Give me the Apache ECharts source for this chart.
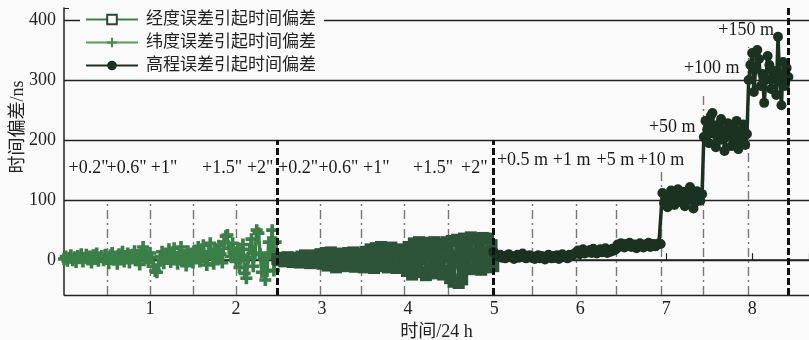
<!DOCTYPE html>
<html>
<head>
<meta charset="utf-8">
<script src="https://cdn.jsdelivr.net/npm/echarts@6/dist/echarts.min.js"></script>
<style>
  html, body { margin: 0; padding: 0; background: #fafafa; }
  #chart { width: 809px; height: 340px; }
</style>
</head>
<body>
<div id="chart"></div>
<script>
// time spans (unit: 24 h) covered by each error series
const latSpan = [0, 2.48]
const lonSpan = [2.48, 4.99]
const hgtSpan = [4.99, 8.42]

// 纬度误差 (ns), evenly sampled over latSpan
const latDev = [
  2, 6, -1, 4, 8, 0, 5, -3, 7, 3, 10, -2, 4, 9, 1, 6, -4, 8, 2, 11, -1, 5, 7, 0, 9,
  3, -5, 8, 12, 1, 6, -6, 10, 4, 14, -2, 7, 11, -4, 5, 9, 15, 0, 8, -7, 12, 22, 3, 10, -3,
  12, 4, -10, -18, -20, -8, 6, 14, -5, 10, 2, 18, -3, 9, 20, 5, -6, 12, 22, 0, 8, -9, 15, 3, 11,
  -4, 16, 6, 22, -2, 12, 25, 4, -8, 14, 28, 8, -6, 18, 2, 24, 10, -4, 30, 40, 42, 20, 6, 28, 12,
  -2, 20, -12, 8, 26, -22, -30, 4, 18, 35, -10, 12, 50, 45, 10, -20, 5, -33, -18, 30, 12, 50, -17, 30, 5
]

// 经度误差 (ns), evenly sampled over lonSpan
const lonDev = [
  2, 0, 4, 1, -2, 3, 5, 0, 2, -3, 4, 1, 3, -4, 6, 0, 8, -2, 5, -5, 7, 2, -3, 8, 0,
  10, -6, 4, 12, -9, 2, 13, -4, 8, -12, 6, 11, -2, -10, 9, 3, 12, -8, 0, 13, -11, 5, 10, -6, 8,
  -12, 14, 2, -8, 18, 6, -13, 20, -4, 10, 22, -10, 4, 16, -12, 8, 21, -6, 12, -13, 2, 18, -9, 14, -3,
  -18, 22, 5, -24, 28, -10, 14, 30, -20, 2, 26, -25, 12, 29, -15, 6, 30, -22, 18, -8, 27, -24, 10, 30, -18,
  -30, 32, -36, 5, 34, -38, 20, -32, 36, -10, 28, -15, 38, 8, -14, 35, -5, 30, -16, 37, 12, -12, 36, -8, 25, -10
]

// 高程误差 (ns), evenly sampled over hgtSpan
const hgtDev = [
  14, 11, 8, 6, 9, 4, 7, 3, 8, 10, 5, 6, 2, 7, 9, 4, 6, 11, 5, 3, 7, 8, 4,
  6, 2, 5, 8, 3, 7, 4, 1, 6, 9, 5, 3, 7, 4, 8, 2, 6, 10, 5, 7, 3, 9, 6, 8, 11,
  12, 16, 10, 14, 18, 11, 15, 13, 17, 12, 19, 14, 11, 16, 18, 13, 15, 20, 12, 17, 14, 19, 16, 18,
  26, 22, 28, 24, 21, 27, 25, 29, 22, 24, 26, 20, 25, 28, 23, 21, 26, 24, 29, 22, 25, 27, 23, 26, 28, 27,
  112, 95, 105, 88, 100, 116, 108, 92, 110, 118, 97, 104, 114, 90, 106, 100, 122, 112, 86, 96, 115, 108, 99, 110,
  205, 232, 218, 195, 240, 245, 210, 188, 225, 200, 235, 215, 182, 205, 228, 212, 190, 220, 198, 232, 185, 215, 200, 226, 192, 210,
  300, 325, 345, 280, 318, 350, 335, 290, 310, 262, 300, 340, 325, 285, 305, 315, 275, 372, 300, 258, 330, 290, 320, 305
]

// segment boundaries
const dashDotX = [0.5, 1.0, 1.5, 2.0, 2.98, 3.46, 3.95, 4.47, 5.44, 5.95, 6.42, 6.94, 7.43, 7.95]
const dashDotTop = [100, 100, 100, 100, 100, 100, 100, 100, 100, 100, 100, 150, 275, 355]
const boldX = [2.48, 4.99, 8.42]
const boldTop = [200, 200, 420]

// step annotations
const noteText = ['+0.2"', '+0.6"', '+1"', '+1.5"', '+2"', '+0.2"', '+0.6"', '+1"', '+1.5"', '+2"',
  '+0.5 m', '+1 m', '+5 m', '+10 m', '+50 m', '+100 m', '+150 m']
const noteX = [0.285, 0.727, 1.163, 1.837, 2.28, 2.72, 3.19, 3.63, 4.29, 4.77,
  5.33, 5.90, 6.41, 6.94, 7.07, 7.53, 7.93]
const noteY = [153, 153, 153, 153, 153, 153, 153, 153, 153, 153,
  167, 167, 167, 167, 222, 320, 383]

const yTicks = [0, 100, 200, 300, 400]
const yMin = -58
const yMax = 420

const names = ['经度误差引起时间偏差', '纬度误差引起时间偏差', '高程误差引起时间偏差']
const FONT = '"Liberation Serif", "Noto Sans CJK SC", serif'
const PLUS = 'path://M3.5,0h3v3.5h3.5v3h-3.5v3.5h-3v-3.5h-3.5v-3h3.5z'
const PLUS_THIN = 'path://M4,0h2v4h4v2h-4v4h-2v-4h-4v-2h4z'

function sampled(span, values) {
  const step = (span[1] - span[0]) / (values.length - 1)
  return values.map((v, i) => [span[0] + i * step, v])
}

function vLines(xs, tops) {
  return xs.map((x, i) => [{ coord: [x, yMin] }, { coord: [x, tops[i]] }])
}

const chart = echarts.init(document.getElementById('chart'), null, { renderer: 'canvas' })

chart.setOption({
  animation: false,
  backgroundColor: '#fafafa',
  textStyle: { fontFamily: FONT },
  grid: { left: 64, right: 0, top: 8, bottom: 45, containLabel: false, outerBoundsMode: 'none' },
  legend: {
    data: names,
    orient: 'vertical',
    left: 80,
    top: 7,
    padding: [4, 8, 4, 5],
    backgroundColor: '#fafafa',
    itemWidth: 52,
    itemHeight: 12,
    itemGap: 6,
    textStyle: { fontFamily: FONT, fontSize: 17, color: '#222', padding: [0, 0, 0, 3] },
  },
  graphic: [{
    type: 'text',
    x: 18,
    y: 127,
    rotation: Math.PI / 2,
    style: {
      text: '时间偏差/ns',
      font: '18px ' + FONT,
      fill: '#222',
      align: 'center',
      verticalAlign: 'middle',
    },
  }],
  xAxis: {
    type: 'value',
    min: 0,
    max: 8.66,
    interval: 1,
    name: '时间/24 h',
    nameLocation: 'middle',
    nameGap: 26,
    nameTextStyle: { fontFamily: FONT, fontSize: 18, color: '#222' },
    axisLine: { show: true, lineStyle: { color: '#222', width: 1.5 } },
    axisTick: { show: true, inside: true, length: 7, lineStyle: { color: '#222', width: 1.2 } },
    axisLabel: {
      fontFamily: FONT, fontSize: 18, color: '#222', margin: 5,
      formatter: v => (v > 0 && Number.isInteger(v)) ? String(v) : '',
    },
    splitLine: { show: false },
  },
  yAxis: {
    type: 'value',
    min: yMin,
    max: yMax,
    splitNumber: 5,
    axisLine: { show: true, lineStyle: { color: '#222', width: 1.5 } },
    axisTick: { show: true, inside: true, length: 5, lineStyle: { color: '#222' } },
    axisLabel: {
      fontFamily: FONT, fontSize: 18, color: '#222', margin: 8, padding: [0, 0, 7, 0],
      formatter: v => yTicks.includes(v) ? String(v) : '',
    },
    splitLine: {
      show: true,
      lineStyle: {
        color: ['#222', '#222', '#222', '#222', '#222', '#222', 'transparent'],
        width: 1.3,
      },
    },
  },
  series: [
    // legend-only entries
    {
      name: names[0], type: 'line', data: [],
      symbol: 'emptyRect',
      lineStyle: { color: '#3f7f4c', width: 1.5 },
      itemStyle: { color: '#24492f' },
    },
    {
      name: names[1], type: 'line', data: [],
      symbol: PLUS_THIN,
      lineStyle: { color: '#4f9d5c', width: 1.5 },
      itemStyle: { color: '#3b8a4a' },
    },
    {
      name: names[2], type: 'line', data: [],
      symbol: 'circle',
      lineStyle: { color: '#1b3221', width: 1.5 },
      itemStyle: { color: '#1b3221' },
    },
    // data
    {
      name: 'lat', type: 'line', z: 10,
      data: sampled(latSpan, latDev),
      symbol: PLUS, symbolSize: 12,
      lineStyle: { color: '#3b7f48', width: 3.5 },
      itemStyle: { color: '#3b7f48' },
    },
    {
      name: 'lon', type: 'line', z: 10,
      data: sampled(lonSpan, lonDev),
      symbol: 'rect', symbolSize: 12,
      lineStyle: { color: '#2d5439', width: 3.5 },
      itemStyle: { color: '#2d5439' },
    },
    {
      name: 'hgt', type: 'line', z: 10,
      data: sampled(hgtSpan, hgtDev),
      symbol: 'circle', symbolSize: 10,
      lineStyle: { color: '#1b3221', width: 3.5 },
      itemStyle: { color: '#1b3221' },
    },
    // segment boundaries
    {
      name: 'dashdot', type: 'line', data: [],
      markLine: {
        z: 1, silent: true, symbol: ['none', 'none'], label: { show: false },
        lineStyle: { color: '#777', width: 1.4, type: [9, 4, 2, 4] },
        data: vLines(dashDotX, dashDotTop),
      },
    },
    {
      name: 'bold', type: 'line', data: [],
      markLine: {
        z: 30, silent: true, symbol: ['none', 'none'], label: { show: false },
        lineStyle: { color: '#111', width: 3, type: [7, 3] },
        data: vLines(boldX, boldTop),
      },
    },
    // annotations
    {
      name: 'notes', type: 'scatter', z: 20,
      symbolSize: 0,
      itemStyle: { color: '#fafafa', opacity: 1 },
      label: {
        show: true, position: 'inside', formatter: '{b}', opacity: 1,
        textBorderWidth: 0, textBorderColor: 'transparent',
        fontFamily: FONT, fontSize: 18, color: '#1a1a1a',
      },
      data: noteText.map((t, i) => ({ name: t, value: [noteX[i], noteY[i]] })),
    },
  ],
})
</script>
</body>
</html>
